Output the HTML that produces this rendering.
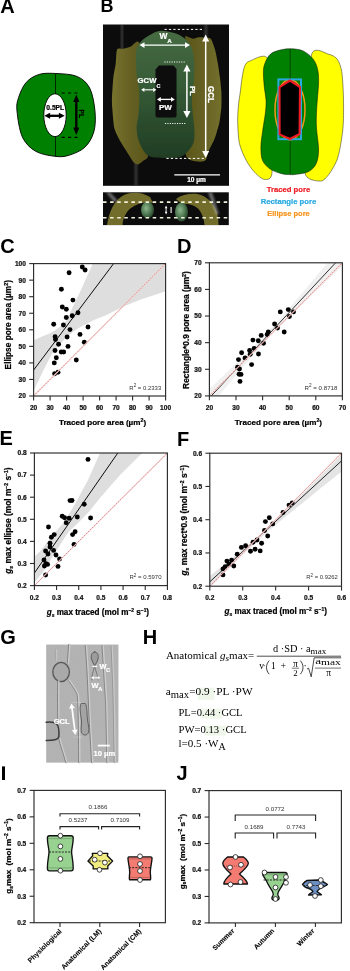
<!DOCTYPE html>
<html><head><meta charset="utf-8"><style>html,body{margin:0;padding:0;background:#fff;}svg{display:block;will-change:transform;}</style></head>
<body><svg width="350" height="971" viewBox="0 0 350 971"><defs><linearGradient id="gG" x1="0" y1="0" x2="0" y2="1"><stop offset="0" stop-color="#466b42"/><stop offset="0.45" stop-color="#355a36"/><stop offset="1" stop-color="#213d24"/></linearGradient><linearGradient id="yL" x1="0" y1="0" x2="1" y2="0"><stop offset="0" stop-color="#77722e"/><stop offset="0.5" stop-color="#666124"/><stop offset="1" stop-color="#5a5519"/></linearGradient><linearGradient id="yR" x1="0" y1="0" x2="1" y2="0"><stop offset="0" stop-color="#5a5519"/><stop offset="0.5" stop-color="#666124"/><stop offset="1" stop-color="#74702c"/></linearGradient><linearGradient id="streak" x1="0" y1="0" x2="1" y2="0"><stop offset="0" stop-color="#fff" stop-opacity="0"/><stop offset="0.5" stop-color="#fff" stop-opacity="0.16"/><stop offset="1" stop-color="#fff" stop-opacity="0"/></linearGradient><filter id="bsoft" x="-5%" y="-5%" width="110%" height="110%"><feGaussianBlur stdDeviation="0.5"/></filter><radialGradient id="gblob" cx="0.4" cy="0.4" r="0.6"><stop offset="0" stop-color="#8fb58c"/><stop offset="0.6" stop-color="#4f7a52"/><stop offset="1" stop-color="#2c4a30"/></radialGradient><filter id="bsoft2" x="-20%" y="-20%" width="140%" height="140%"><feGaussianBlur stdDeviation="0.9"/></filter><clipPath id="cC"><rect x="33.60" y="263.60" width="132.00" height="132.40"/></clipPath><clipPath id="cD"><rect x="209.40" y="262.80" width="133.00" height="133.10"/></clipPath><clipPath id="cE"><rect x="34.40" y="453.00" width="133.00" height="132.60"/></clipPath><clipPath id="cF"><rect x="209.80" y="453.20" width="131.70" height="133.00"/></clipPath><filter id="blur1" x="-10%" y="-10%" width="120%" height="120%"><feGaussianBlur stdDeviation="0.75"/></filter><filter id="gnoise" x="0" y="0" width="100%" height="100%"><feTurbulence type="fractalNoise" baseFrequency="0.18" numOctaves="2" seed="3"/><feColorMatrix type="matrix" values="0 0 0 0 0.5  0 0 0 0 0.5  0 0 0 0 0.5  0 0 0 0.35 0"/></filter></defs><rect width="350" height="971" fill="#fff"/><text x="0.30" y="12.90" font-family='"Liberation Sans", sans-serif' font-size="20.00" font-weight="bold" text-anchor="start" fill="#000" >A</text>
<text x="100.50" y="12.40" font-family='"Liberation Sans", sans-serif' font-size="18.00" font-weight="bold" text-anchor="start" fill="#000" >B</text>
<text x="0.30" y="252.60" font-family='"Liberation Sans", sans-serif' font-size="20.00" font-weight="bold" text-anchor="start" fill="#000" >C</text>
<text x="177.00" y="252.60" font-family='"Liberation Sans", sans-serif' font-size="20.00" font-weight="bold" text-anchor="start" fill="#000" >D</text>
<text x="-0.40" y="445.00" font-family='"Liberation Sans", sans-serif' font-size="20.00" font-weight="bold" text-anchor="start" fill="#000" >E</text>
<text x="177.10" y="445.50" font-family='"Liberation Sans", sans-serif' font-size="20.00" font-weight="bold" text-anchor="start" fill="#000" >F</text>
<text x="0.30" y="643.60" font-family='"Liberation Sans", sans-serif' font-size="20.00" font-weight="bold" text-anchor="start" fill="#000" >G</text>
<text x="142.80" y="643.80" font-family='"Liberation Sans", sans-serif' font-size="20.00" font-weight="bold" text-anchor="start" fill="#000" >H</text>
<rect x="2" y="766.4" width="3" height="13.6" fill="#000"/>
<text x="176.60" y="780.00" font-family='"Liberation Sans", sans-serif' font-size="20.00" font-weight="bold" text-anchor="start" fill="#000" >J</text>
<path d="M55.80,73.50 C62.08,73.83 71.25,73.97 76.90,76.40 C82.55,78.83 86.68,82.28 89.70,88.10 C92.72,93.92 94.32,104.00 95.00,111.30 C95.68,118.60 95.50,125.90 93.80,131.90 C92.10,137.90 88.92,143.42 84.80,147.30 C80.68,151.18 73.93,153.68 69.10,155.20 C64.27,156.72 61.37,157.05 55.80,156.40 C50.23,155.75 41.27,154.53 35.70,151.30 C30.13,148.07 25.52,143.72 22.40,137.00 C19.28,130.28 17.63,117.58 17.00,111.00 C16.37,104.42 17.07,102.27 18.60,97.50 C20.13,92.73 22.77,86.25 26.20,82.40 C29.63,78.55 34.27,75.88 39.20,74.40 C44.13,72.92 49.52,73.17 55.80,73.50Z M66.2,115.2 A11.2,21.4 0 1 0 43.8,115.2 A11.2,21.4 0 1 0 66.2,115.2 Z" fill="#008000" fill-rule="evenodd" stroke="#000" stroke-width="0.9"/>
<line x1="55.5" y1="73.5" x2="55.5" y2="93.9" stroke="#000" stroke-width="0.7"/>
<line x1="55.5" y1="136.6" x2="55.5" y2="156.4" stroke="#000" stroke-width="0.7"/>
<line x1="61.7" y1="93" x2="78.5" y2="93" stroke="#000" stroke-width="1.2" stroke-dasharray="3,3.4"/>
<line x1="61.7" y1="137.3" x2="78.5" y2="137.3" stroke="#000" stroke-width="1.2" stroke-dasharray="3,3.4"/>
<line x1="76.30" y1="100.40" x2="76.30" y2="129.10" stroke="#000" stroke-width="2.40"/>
<polygon points="76.30,94.40 73.20,101.90 79.40,101.90" fill="#000"/>
<polygon points="76.30,135.10 73.20,127.60 79.40,127.60" fill="#000"/>
<line x1="48.94" y1="115.80" x2="60.06" y2="115.80" stroke="#000" stroke-width="2.30"/>
<polygon points="44.30,115.80 50.10,118.80 50.10,112.80" fill="#000"/>
<polygon points="64.70,115.80 58.90,118.80 58.90,112.80" fill="#000"/>
<text x="55.25" y="110.40" font-family='"Liberation Sans", sans-serif' font-size="6.70" font-weight="bold" text-anchor="middle" fill="#000" stroke="#000" stroke-width="0.22" textLength="17.90" lengthAdjust="spacingAndGlyphs" >0.5PL</text>
<text x="79.30" y="113.70" font-family='"Liberation Sans", sans-serif' font-size="6.70" font-weight="bold" text-anchor="middle" fill="#000" stroke="#000" stroke-width="0.22" textLength="8.60" lengthAdjust="spacingAndGlyphs" transform="rotate(90 79.3 113.7)">PL</text>
<rect x="103" y="24.5" width="126" height="161.3" fill="#0c0c0c"/>
<g filter="url(#bsoft)">
<rect x="119.5" y="24.5" width="5" height="25" fill="url(#streak)"/>
<rect x="203" y="24.5" width="6" height="13" fill="url(#streak)"/>
<rect x="133" y="163" width="6" height="22" fill="url(#streak)"/>
<path d="M117.10,49.40 C118.02,47.65 122.01,49.03 123.60,48.70 C125.19,48.37 129.03,47.43 130.70,46.60 C132.37,45.77 136.35,40.62 137.90,41.60 C139.45,42.58 143.17,48.19 144.00,55.00 C144.83,61.81 144.88,90.08 145.00,100.00 C145.12,109.92 144.65,133.40 145.00,140.00 C145.35,146.60 148.23,154.15 148.00,156.60 C147.77,159.05 144.18,160.09 143.00,161.00 C141.82,161.91 139.00,164.25 137.90,164.40 C136.80,164.55 134.94,163.88 133.60,162.30 C132.26,160.73 128.07,153.57 126.40,150.90 C124.73,148.23 120.71,142.07 119.30,139.40 C117.89,136.73 115.10,131.43 114.30,128.00 C113.50,124.57 112.68,113.34 112.40,110.00 C112.12,106.66 111.80,103.13 111.90,99.40 C112.01,95.67 112.86,82.17 113.30,78.00 C113.74,73.83 115.26,67.04 115.70,63.70 C116.14,60.36 116.18,51.15 117.10,49.40Z" fill="url(#yL)"/>
<path d="M185.00,36.60 C185.57,35.28 191.31,38.62 192.90,38.70 C194.49,38.78 197.31,37.44 198.60,37.30 C199.89,37.16 202.59,37.34 204.00,37.50 C205.41,37.66 209.42,37.31 210.70,38.70 C211.98,40.09 214.16,46.48 215.00,49.40 C215.84,52.32 217.32,60.36 217.90,63.70 C218.48,67.04 219.59,74.66 220.00,78.00 C220.41,81.34 221.24,88.96 221.40,92.30 C221.56,95.64 221.62,103.13 221.40,106.60 C221.18,110.06 220.04,119.04 219.50,122.00 C218.96,124.96 217.41,129.97 216.80,132.00 C216.19,134.03 215.26,137.19 214.30,139.40 C213.34,141.61 209.60,148.49 208.60,150.90 C207.60,153.31 206.87,158.85 205.70,160.10 C204.53,161.35 200.93,162.26 198.60,161.60 C196.27,160.94 186.94,161.59 185.70,154.40 C184.46,147.21 187.73,112.18 188.00,100.00 C188.27,87.82 188.35,57.40 188.00,50.00 C187.65,42.60 184.43,37.92 185.00,36.60Z" fill="url(#yR)"/>
<path d="M157.00,31.50 C159.50,30.75 160.83,30.67 164.00,31.00 C167.17,31.33 172.67,32.33 176.00,33.50 C179.33,34.67 181.75,36.25 184.00,38.00 C186.25,39.75 188.05,41.83 189.50,44.00 C190.95,46.17 191.90,47.72 192.70,51.00 C193.50,54.28 194.07,59.20 194.30,63.70 C194.53,68.20 194.43,73.28 194.10,78.00 C193.77,82.72 192.63,87.23 192.30,92.00 C191.97,96.77 191.77,100.60 192.10,106.60 C192.43,112.60 194.05,122.05 194.30,128.00 C194.55,133.95 194.80,138.25 193.60,142.30 C192.40,146.35 189.60,149.80 187.10,152.30 C184.60,154.80 182.62,156.37 178.60,157.30 C174.58,158.23 168.12,158.20 163.00,157.90 C157.88,157.60 151.85,158.10 147.90,155.50 C143.95,152.90 141.18,146.88 139.30,142.30 C137.42,137.72 136.72,132.77 136.60,128.00 C136.48,123.23 138.15,119.65 138.60,113.70 C139.05,107.75 139.55,98.25 139.30,92.30 C139.05,86.35 137.63,82.53 137.10,78.00 C136.57,73.47 136.28,69.43 136.10,65.10 C135.92,60.77 135.60,55.35 136.00,52.00 C136.40,48.65 137.33,47.08 138.50,45.00 C139.67,42.92 141.25,41.08 143.00,39.50 C144.75,37.92 146.67,36.83 149.00,35.50 C151.33,34.17 154.50,32.25 157.00,31.50Z" fill="url(#gG)"/>
<path d="M159,65.5 L173.5,65.5 L176.5,69 L176.5,115 Q176.5,117.6 174,117.6 L158,117.6 Q155.5,117.6 155.5,115 L155.5,69.5 Z" fill="#090909"/>
</g>
<line x1="164.5" y1="29.4" x2="204" y2="29.4" stroke="#fff" stroke-width="1" stroke-dasharray="2.3,2.1"/>
<line x1="164.4" y1="62" x2="186" y2="62" stroke="#fff" stroke-width="1" stroke-dasharray="1.1,1.3"/>
<line x1="165" y1="123.5" x2="186.5" y2="123.5" stroke="#fff" stroke-width="1" stroke-dasharray="1.1,1.3"/>
<line x1="166.4" y1="158.4" x2="204" y2="158.4" stroke="#fff" stroke-width="1" stroke-dasharray="2.3,2.1"/>
<line x1="143.50" y1="45.10" x2="186.00" y2="45.10" stroke="#ffffff" stroke-width="1.40"/>
<polygon points="139.50,45.10 144.50,48.00 144.50,42.20" fill="#ffffff"/>
<polygon points="190.00,45.10 185.00,48.00 185.00,42.20" fill="#ffffff"/>
<line x1="205.70" y1="40.00" x2="205.70" y2="152.40" stroke="#ffffff" stroke-width="1.50"/>
<polygon points="205.70,34.40 202.20,41.40 209.20,41.40" fill="#ffffff"/>
<polygon points="205.70,158.00 202.20,151.00 209.20,151.00" fill="#ffffff"/>
<line x1="186.90" y1="70.00" x2="186.90" y2="112.40" stroke="#ffffff" stroke-width="1.50"/>
<polygon points="186.90,64.40 183.30,71.40 190.50,71.40" fill="#ffffff"/>
<polygon points="186.90,118.00 183.30,111.00 190.50,111.00" fill="#ffffff"/>
<line x1="143.76" y1="89.80" x2="153.84" y2="89.80" stroke="#ffffff" stroke-width="1.10"/>
<polygon points="141.20,89.80 144.40,91.90 144.40,87.70" fill="#ffffff"/>
<polygon points="156.40,89.80 153.20,91.90 153.20,87.70" fill="#ffffff"/>
<line x1="160.04" y1="99.40" x2="171.76" y2="99.40" stroke="#ffffff" stroke-width="1.30"/>
<polygon points="157.00,99.40 160.80,101.80 160.80,97.00" fill="#ffffff"/>
<polygon points="174.80,99.40 171.00,101.80 171.00,97.00" fill="#ffffff"/>
<text x="159.60" y="38.60" font-family='"Liberation Sans", sans-serif' font-size="8.40" font-weight="bold" text-anchor="start" fill="#ffffff" stroke="#ffffff" stroke-width="0.22" >W</text>
<text x="167.20" y="43.40" font-family='"Liberation Sans", sans-serif' font-size="6.20" font-weight="bold" text-anchor="start" fill="#ffffff" stroke="#ffffff" stroke-width="0.22" >A</text>
<text x="137.60" y="83.20" font-family='"Liberation Sans", sans-serif' font-size="7.60" font-weight="bold" text-anchor="start" fill="#ffffff" stroke="#ffffff" stroke-width="0.22" textLength="18.80" lengthAdjust="spacingAndGlyphs" >GCW</text>
<text x="156.60" y="88.20" font-family='"Liberation Sans", sans-serif' font-size="5.40" font-weight="bold" text-anchor="start" fill="#ffffff" stroke="#ffffff" stroke-width="0.22" >C</text>
<text x="165.40" y="110.20" font-family='"Liberation Sans", sans-serif' font-size="8.00" font-weight="bold" text-anchor="middle" fill="#ffffff" stroke="#ffffff" stroke-width="0.22" textLength="12.90" lengthAdjust="spacingAndGlyphs" >PW</text>
<text x="190.00" y="90.90" font-family='"Liberation Sans", sans-serif' font-size="7.80" font-weight="bold" text-anchor="middle" fill="#ffffff" stroke="#ffffff" stroke-width="0.22" textLength="10.00" lengthAdjust="spacingAndGlyphs" transform="rotate(90 190.0 90.9)">PL</text>
<text x="207.80" y="94.40" font-family='"Liberation Sans", sans-serif' font-size="8.20" font-weight="bold" text-anchor="middle" fill="#ffffff" stroke="#ffffff" stroke-width="0.22" textLength="17.00" lengthAdjust="spacingAndGlyphs" transform="rotate(90 207.8 94.4)">GCL</text>
<line x1="174.3" y1="174.8" x2="220" y2="174.8" stroke="#fff" stroke-width="1.3"/>
<text x="196.50" y="181.80" font-family='"Liberation Sans", sans-serif' font-size="6.40" font-weight="bold" text-anchor="middle" fill="#ffffff" stroke="#ffffff" stroke-width="0.22" textLength="18.70" lengthAdjust="spacingAndGlyphs" >10 µm</text>
<rect x="103" y="192.3" width="125.8" height="32.8" fill="#0c0c0c"/>
<g filter="url(#bsoft)">
<path d="M107,225.1 C109,212 114,200 124,195 C132,191.5 142,192 150,197 L153,203 C146,201.5 138,203 131,208 C126,212 123,218 122.5,225.1 Z" fill="#726d2c"/>
<path d="M176,199 C182,194.5 190,193.2 197,194 C206,195.5 213,202 216.5,211 C218,216 218.5,221 218.5,225.1 L204.5,225.1 C204,219 202,213 198.5,209 C194,204.5 188,203.5 182,204.3 Z" fill="#726d2c"/>
<ellipse cx="147.5" cy="210" rx="6.5" ry="8.5" fill="url(#gblob)"/>
<ellipse cx="181.5" cy="212" rx="6.5" ry="9.5" fill="url(#gblob)"/>
</g>
<g filter="url(#bsoft2)" opacity="0.55">
<path d="M106,192.3 L110,192.3 L118,201 L114,202 Z" fill="#bbbbbb"/>
<path d="M208,192.3 L212,192.3 L219,214 L216,215 Z" fill="#bbbbbb"/>
</g>
<line x1="103" y1="202.1" x2="228.8" y2="202.1" stroke="#f4f2dc" stroke-width="1.6" stroke-dasharray="3.5,3.6"/>
<line x1="103" y1="217.7" x2="228.8" y2="217.7" stroke="#f4f2dc" stroke-width="1.6" stroke-dasharray="3.5,3.6"/>
<line x1="166.10" y1="207.72" x2="166.10" y2="212.28" stroke="#ffffff" stroke-width="0.90"/>
<polygon points="166.10,205.40 164.80,208.30 167.40,208.30" fill="#ffffff"/>
<polygon points="166.10,214.60 164.80,211.70 167.40,211.70" fill="#ffffff"/>
<line x1="171.1" y1="207.1" x2="171.1" y2="212.9" stroke="#fff" stroke-width="1.1"/>
<path d="M268.00,59.50 C265.56,51.65 252.82,60.19 249.70,61.10 C246.58,62.01 245.63,64.01 244.60,66.30 C243.57,68.59 242.57,74.87 242.00,78.30 C241.43,81.73 240.75,88.57 240.30,92.00 C239.85,95.43 238.95,100.12 238.60,104.00 C238.25,107.88 237.59,115.85 237.70,121.10 C237.81,126.35 238.25,138.13 239.40,143.40 C240.55,148.67 244.23,156.71 246.30,160.60 C248.37,164.49 252.50,170.09 254.90,172.60 C257.30,175.11 262.02,179.40 264.30,179.40 C266.58,179.40 271.51,180.52 272.00,172.60 C272.49,164.68 268.53,135.08 268.00,120.00 C267.47,104.92 270.44,67.35 268.00,59.50Z" fill="#ffff00" stroke="#222" stroke-width="0.5"/>
<path d="M311.70,54.30 C313.95,45.54 325.47,53.62 328.90,54.30 C332.33,54.98 335.69,57.12 337.40,59.40 C339.11,61.68 340.90,66.60 341.70,71.40 C342.50,76.20 343.17,88.77 343.40,95.40 C343.63,102.03 343.63,115.38 343.40,121.10 C343.17,126.82 342.50,133.26 341.70,138.30 C340.90,143.34 339.11,154.10 337.40,158.90 C335.69,163.70 331.18,171.34 328.90,174.30 C326.62,177.26 323.50,181.33 320.30,181.10 C317.10,180.87 306.01,180.75 304.90,172.60 C303.79,164.45 311.09,135.77 312.00,120.00 C312.91,104.23 309.45,63.06 311.70,54.30Z" fill="#ffff00" stroke="#222" stroke-width="0.5"/>
<path d="M290.30,48.80 C294.32,48.90 299.25,49.13 303.10,50.90 C306.95,52.67 310.97,56.27 313.40,59.40 C315.83,62.53 316.83,65.98 317.70,69.70 C318.57,73.42 318.60,77.42 318.60,81.70 C318.60,85.98 318.05,90.35 317.70,95.40 C317.35,100.45 316.70,106.57 316.50,112.00 C316.30,117.43 316.15,121.67 316.50,128.00 C316.85,134.33 318.68,144.00 318.60,150.00 C318.52,156.00 317.72,160.38 316.00,164.00 C314.28,167.62 311.58,169.98 308.30,171.70 C305.02,173.42 299.42,173.82 296.30,174.30 C293.18,174.78 292.22,174.75 289.60,174.60 C286.98,174.45 283.82,174.32 280.60,173.40 C277.38,172.48 273.30,171.23 270.30,169.10 C267.30,166.97 264.17,164.30 262.60,160.60 C261.03,156.90 260.90,151.77 260.90,146.90 C260.90,142.03 261.83,137.22 262.60,131.40 C263.37,125.58 264.93,117.23 265.50,112.00 C266.07,106.77 266.20,104.18 266.00,100.00 C265.80,95.82 264.73,91.67 264.30,86.90 C263.87,82.13 263.27,75.40 263.40,71.40 C263.53,67.40 263.95,65.75 265.10,62.90 C266.25,60.05 267.98,56.40 270.30,54.30 C272.62,52.20 275.67,51.22 279.00,50.30 C282.33,49.38 286.28,48.70 290.30,48.80Z" fill="#008000" stroke="#111" stroke-width="0.5"/>
<line x1="290.2" y1="48.8" x2="290.2" y2="174.6" stroke="#111" stroke-width="0.5"/>
<ellipse cx="290" cy="109.7" rx="15" ry="30" fill="none" stroke="#f7941d" stroke-width="1.5"/>
<rect x="278.4" y="79.4" width="22.6" height="59.8" fill="none" stroke="#27aae1" stroke-width="2"/>
<path d="M289.9,80.5 L300,87 L299.6,134 L289.9,139 L279.6,134.4 L279.5,87.2 Z" fill="#000" stroke="#ed1c24" stroke-width="2.1" stroke-linejoin="round"/>
<text x="288.50" y="191.80" font-family='"Liberation Sans", sans-serif' font-size="7.60" font-weight="bold" text-anchor="middle" fill="#ed1c24" stroke="#ed1c24" stroke-width="0.22" textLength="43.50" lengthAdjust="spacingAndGlyphs" >Traced pore</text>
<text x="288.50" y="203.80" font-family='"Liberation Sans", sans-serif' font-size="7.60" font-weight="bold" text-anchor="middle" fill="#27aae1" stroke="#27aae1" stroke-width="0.22" textLength="55.50" lengthAdjust="spacingAndGlyphs" >Rectangle pore</text>
<text x="288.50" y="215.80" font-family='"Liberation Sans", sans-serif' font-size="7.60" font-weight="bold" text-anchor="middle" fill="#f7941d" stroke="#f7941d" stroke-width="0.22" textLength="42.50" lengthAdjust="spacingAndGlyphs" >Ellipse pore</text>
<g clip-path="url(#cC)"><path d="M33.00,340.50 L44.40,335.60 L50.00,333.20 L55.90,329.70 L62.70,325.10 L67.50,319.00 L73.10,305.90 L79.60,293.00 L86.00,278.70 L92.40,264.40 L93.00,262.00 L167.00,262.00 L167.00,291.50 L164.40,291.70 L140.80,299.60 L123.40,306.60 L106.00,315.30 L94.60,319.70 L82.60,325.70 L74.00,330.90 L65.40,338.50 L58.00,346.00 L51.40,355.10 L43.00,371.00 L33.90,390.30 L33.00,392.00 Z" fill="#dedede"/>
<line x1="33.6" y1="370.1" x2="113.6" y2="263.6" stroke="#000" stroke-width="0.95"/></g>
<circle cx="82.30" cy="267.00" r="2.45" fill="#000"/>
<circle cx="85.10" cy="270.00" r="2.45" fill="#000"/>
<circle cx="69.10" cy="272.70" r="2.45" fill="#000"/>
<circle cx="61.40" cy="289.30" r="2.45" fill="#000"/>
<circle cx="72.90" cy="300.10" r="2.45" fill="#000"/>
<circle cx="62.30" cy="307.00" r="2.45" fill="#000"/>
<circle cx="66.30" cy="309.30" r="2.45" fill="#000"/>
<circle cx="78.00" cy="312.80" r="2.45" fill="#000"/>
<circle cx="72.20" cy="315.80" r="2.45" fill="#000"/>
<circle cx="66.30" cy="317.50" r="2.45" fill="#000"/>
<circle cx="53.70" cy="324.20" r="2.45" fill="#000"/>
<circle cx="63.40" cy="325.00" r="2.45" fill="#000"/>
<circle cx="88.00" cy="327.00" r="2.45" fill="#000"/>
<circle cx="70.00" cy="329.60" r="2.45" fill="#000"/>
<circle cx="80.00" cy="334.40" r="2.45" fill="#000"/>
<circle cx="55.10" cy="336.80" r="2.45" fill="#000"/>
<circle cx="55.50" cy="339.60" r="2.45" fill="#000"/>
<circle cx="67.10" cy="337.00" r="2.45" fill="#000"/>
<circle cx="58.60" cy="344.20" r="2.45" fill="#000"/>
<circle cx="84.30" cy="342.20" r="2.45" fill="#000"/>
<circle cx="68.00" cy="346.40" r="2.45" fill="#000"/>
<circle cx="55.00" cy="350.50" r="2.45" fill="#000"/>
<circle cx="61.20" cy="352.00" r="2.45" fill="#000"/>
<circle cx="63.70" cy="352.00" r="2.45" fill="#000"/>
<circle cx="56.30" cy="357.70" r="2.45" fill="#000"/>
<circle cx="54.30" cy="362.90" r="2.45" fill="#000"/>
<circle cx="76.30" cy="360.00" r="2.45" fill="#000"/>
<circle cx="54.60" cy="373.70" r="2.45" fill="#000"/>
<circle cx="58.00" cy="372.30" r="2.45" fill="#000"/>
<line x1="33.60" y1="396.00" x2="165.60" y2="263.60" stroke="#f7e0e0" stroke-width="1.1"/>
<line x1="33.60" y1="396.00" x2="165.60" y2="263.60" stroke="#d85c5c" stroke-width="0.7" stroke-dasharray="1.8,1.0"/>
<rect x="33.60" y="263.60" width="132.00" height="132.40" fill="none" stroke="#2b2b2b" stroke-width="1.15"/>
<line x1="29.20" y1="396.00" x2="33.60" y2="396.00" stroke="#2b2b2b" stroke-width="1.1"/>
<text x="25.90" y="398.35" font-family='"Liberation Sans", sans-serif' font-size="6.60" font-weight="bold" text-anchor="end" fill="#111" stroke="#111" stroke-width="0.22" >20</text>
<line x1="29.20" y1="379.45" x2="33.60" y2="379.45" stroke="#2b2b2b" stroke-width="1.1"/>
<text x="25.90" y="381.80" font-family='"Liberation Sans", sans-serif' font-size="6.60" font-weight="bold" text-anchor="end" fill="#111" stroke="#111" stroke-width="0.22" >30</text>
<line x1="29.20" y1="362.90" x2="33.60" y2="362.90" stroke="#2b2b2b" stroke-width="1.1"/>
<text x="25.90" y="365.25" font-family='"Liberation Sans", sans-serif' font-size="6.60" font-weight="bold" text-anchor="end" fill="#111" stroke="#111" stroke-width="0.22" >40</text>
<line x1="29.20" y1="346.35" x2="33.60" y2="346.35" stroke="#2b2b2b" stroke-width="1.1"/>
<text x="25.90" y="348.70" font-family='"Liberation Sans", sans-serif' font-size="6.60" font-weight="bold" text-anchor="end" fill="#111" stroke="#111" stroke-width="0.22" >50</text>
<line x1="29.20" y1="329.80" x2="33.60" y2="329.80" stroke="#2b2b2b" stroke-width="1.1"/>
<text x="25.90" y="332.15" font-family='"Liberation Sans", sans-serif' font-size="6.60" font-weight="bold" text-anchor="end" fill="#111" stroke="#111" stroke-width="0.22" >60</text>
<line x1="29.20" y1="313.25" x2="33.60" y2="313.25" stroke="#2b2b2b" stroke-width="1.1"/>
<text x="25.90" y="315.60" font-family='"Liberation Sans", sans-serif' font-size="6.60" font-weight="bold" text-anchor="end" fill="#111" stroke="#111" stroke-width="0.22" >70</text>
<line x1="29.20" y1="296.70" x2="33.60" y2="296.70" stroke="#2b2b2b" stroke-width="1.1"/>
<text x="25.90" y="299.05" font-family='"Liberation Sans", sans-serif' font-size="6.60" font-weight="bold" text-anchor="end" fill="#111" stroke="#111" stroke-width="0.22" >80</text>
<line x1="29.20" y1="280.15" x2="33.60" y2="280.15" stroke="#2b2b2b" stroke-width="1.1"/>
<text x="25.90" y="282.50" font-family='"Liberation Sans", sans-serif' font-size="6.60" font-weight="bold" text-anchor="end" fill="#111" stroke="#111" stroke-width="0.22" >90</text>
<line x1="29.20" y1="263.60" x2="33.60" y2="263.60" stroke="#2b2b2b" stroke-width="1.1"/>
<text x="25.90" y="265.95" font-family='"Liberation Sans", sans-serif' font-size="6.60" font-weight="bold" text-anchor="end" fill="#111" stroke="#111" stroke-width="0.22" >100</text>
<line x1="33.60" y1="396.00" x2="33.60" y2="400.40" stroke="#2b2b2b" stroke-width="1.1"/>
<text x="33.60" y="410.20" font-family='"Liberation Sans", sans-serif' font-size="6.60" font-weight="bold" text-anchor="middle" fill="#111" stroke="#111" stroke-width="0.22" >20</text>
<line x1="50.10" y1="396.00" x2="50.10" y2="400.40" stroke="#2b2b2b" stroke-width="1.1"/>
<text x="50.10" y="410.20" font-family='"Liberation Sans", sans-serif' font-size="6.60" font-weight="bold" text-anchor="middle" fill="#111" stroke="#111" stroke-width="0.22" >30</text>
<line x1="66.60" y1="396.00" x2="66.60" y2="400.40" stroke="#2b2b2b" stroke-width="1.1"/>
<text x="66.60" y="410.20" font-family='"Liberation Sans", sans-serif' font-size="6.60" font-weight="bold" text-anchor="middle" fill="#111" stroke="#111" stroke-width="0.22" >40</text>
<line x1="83.10" y1="396.00" x2="83.10" y2="400.40" stroke="#2b2b2b" stroke-width="1.1"/>
<text x="83.10" y="410.20" font-family='"Liberation Sans", sans-serif' font-size="6.60" font-weight="bold" text-anchor="middle" fill="#111" stroke="#111" stroke-width="0.22" >50</text>
<line x1="99.60" y1="396.00" x2="99.60" y2="400.40" stroke="#2b2b2b" stroke-width="1.1"/>
<text x="99.60" y="410.20" font-family='"Liberation Sans", sans-serif' font-size="6.60" font-weight="bold" text-anchor="middle" fill="#111" stroke="#111" stroke-width="0.22" >60</text>
<line x1="116.10" y1="396.00" x2="116.10" y2="400.40" stroke="#2b2b2b" stroke-width="1.1"/>
<text x="116.10" y="410.20" font-family='"Liberation Sans", sans-serif' font-size="6.60" font-weight="bold" text-anchor="middle" fill="#111" stroke="#111" stroke-width="0.22" >70</text>
<line x1="132.60" y1="396.00" x2="132.60" y2="400.40" stroke="#2b2b2b" stroke-width="1.1"/>
<text x="132.60" y="410.20" font-family='"Liberation Sans", sans-serif' font-size="6.60" font-weight="bold" text-anchor="middle" fill="#111" stroke="#111" stroke-width="0.22" >80</text>
<line x1="149.10" y1="396.00" x2="149.10" y2="400.40" stroke="#2b2b2b" stroke-width="1.1"/>
<text x="149.10" y="410.20" font-family='"Liberation Sans", sans-serif' font-size="6.60" font-weight="bold" text-anchor="middle" fill="#111" stroke="#111" stroke-width="0.22" >90</text>
<line x1="165.60" y1="396.00" x2="165.60" y2="400.40" stroke="#2b2b2b" stroke-width="1.1"/>
<text x="165.60" y="410.20" font-family='"Liberation Sans", sans-serif' font-size="6.60" font-weight="bold" text-anchor="middle" fill="#111" stroke="#111" stroke-width="0.22" >100</text>
<text x="102.50" y="424.60" font-family='"Liberation Sans", sans-serif' font-size="8.10" font-weight="bold" text-anchor="middle" fill="#000" stroke="#000" stroke-width="0.22" >Traced pore area (µm<tspan dy="-2.8" font-size="5.26">2</tspan><tspan dy="2.8">)</tspan></text>
<text x="11.20" y="324.70" font-family='"Liberation Sans", sans-serif' font-size="8.30" font-weight="bold" text-anchor="middle" fill="#000" stroke="#000" stroke-width="0.22" transform="rotate(-90 11.20 324.70)">Ellipse pore area (µm<tspan dy="-2.8" font-size="5.40">2</tspan><tspan dy="2.8">)</tspan></text>
<text x="129.30" y="389.70" font-family='"Liberation Sans", sans-serif' font-size="6.00" font-weight="normal" text-anchor="start" fill="#333" textLength="32.00" lengthAdjust="spacingAndGlyphs" >R<tspan dy="-2.3" font-size="4.6">2</tspan><tspan dy="2.3"> = 0.2333</tspan></text>
<g clip-path="url(#cD)"><path d="M200.00,397.81 L206.25,391.91 L212.50,386.01 L218.75,380.09 L225.00,374.15 L231.25,368.18 L237.50,362.18 L243.75,356.13 L250.00,350.01 L256.25,343.79 L262.50,337.42 L268.75,330.87 L275.00,324.11 L281.25,317.16 L287.50,310.05 L293.75,302.82 L300.00,295.51 L306.25,288.14 L312.50,280.73 L318.75,273.29 L325.00,265.83 L331.25,258.36 L337.50,250.87 L343.75,243.37 L350.00,235.87 L350.00,258.84 L343.75,264.72 L337.50,270.61 L331.25,276.51 L325.00,282.42 L318.75,288.35 L312.50,294.30 L306.25,300.28 L300.00,306.29 L293.75,312.37 L287.50,318.53 L281.25,324.81 L275.00,331.24 L268.75,337.88 L262.50,344.71 L256.25,351.73 L250.00,358.89 L243.75,366.16 L237.50,373.50 L231.25,380.88 L225.00,388.31 L218.75,395.75 L212.50,403.22 L206.25,410.70 L200.00,418.19 Z" fill="#f0f0f0"/>
<line x1="211.3" y1="395.9" x2="335.6" y2="262.8" stroke="#000" stroke-width="0.8"/></g>
<circle cx="280.30" cy="311.90" r="2.45" fill="#000"/>
<circle cx="288.30" cy="309.60" r="2.45" fill="#000"/>
<circle cx="293.50" cy="311.90" r="2.45" fill="#000"/>
<circle cx="289.40" cy="316.50" r="2.45" fill="#000"/>
<circle cx="274.60" cy="324.00" r="2.45" fill="#000"/>
<circle cx="277.50" cy="328.10" r="2.45" fill="#000"/>
<circle cx="284.20" cy="332.00" r="2.45" fill="#000"/>
<circle cx="268.30" cy="332.00" r="2.45" fill="#000"/>
<circle cx="267.20" cy="334.50" r="2.45" fill="#000"/>
<circle cx="261.20" cy="335.40" r="2.45" fill="#000"/>
<circle cx="252.90" cy="340.10" r="2.45" fill="#000"/>
<circle cx="258.30" cy="340.80" r="2.45" fill="#000"/>
<circle cx="263.50" cy="343.20" r="2.45" fill="#000"/>
<circle cx="254.10" cy="348.40" r="2.45" fill="#000"/>
<circle cx="249.60" cy="350.40" r="2.45" fill="#000"/>
<circle cx="241.60" cy="352.80" r="2.45" fill="#000"/>
<circle cx="250.20" cy="354.30" r="2.45" fill="#000"/>
<circle cx="258.50" cy="354.00" r="2.45" fill="#000"/>
<circle cx="245.00" cy="357.90" r="2.45" fill="#000"/>
<circle cx="238.50" cy="359.60" r="2.45" fill="#000"/>
<circle cx="251.60" cy="364.60" r="2.45" fill="#000"/>
<circle cx="237.60" cy="367.30" r="2.45" fill="#000"/>
<circle cx="239.50" cy="369.00" r="2.45" fill="#000"/>
<circle cx="239.10" cy="374.20" r="2.45" fill="#000"/>
<circle cx="241.00" cy="374.40" r="2.45" fill="#000"/>
<circle cx="240.00" cy="381.40" r="2.45" fill="#000"/>
<line x1="209.40" y1="395.90" x2="342.40" y2="262.80" stroke="#f7e0e0" stroke-width="1.1"/>
<line x1="209.40" y1="395.90" x2="342.40" y2="262.80" stroke="#d85c5c" stroke-width="0.7" stroke-dasharray="1.8,1.0"/>
<rect x="209.40" y="262.80" width="133.00" height="133.10" fill="none" stroke="#2b2b2b" stroke-width="1.15"/>
<line x1="205.00" y1="395.90" x2="209.40" y2="395.90" stroke="#2b2b2b" stroke-width="1.1"/>
<text x="201.70" y="398.25" font-family='"Liberation Sans", sans-serif' font-size="6.60" font-weight="bold" text-anchor="end" fill="#111" stroke="#111" stroke-width="0.22" >20</text>
<line x1="205.00" y1="369.28" x2="209.40" y2="369.28" stroke="#2b2b2b" stroke-width="1.1"/>
<text x="201.70" y="371.63" font-family='"Liberation Sans", sans-serif' font-size="6.60" font-weight="bold" text-anchor="end" fill="#111" stroke="#111" stroke-width="0.22" >30</text>
<line x1="205.00" y1="342.66" x2="209.40" y2="342.66" stroke="#2b2b2b" stroke-width="1.1"/>
<text x="201.70" y="345.01" font-family='"Liberation Sans", sans-serif' font-size="6.60" font-weight="bold" text-anchor="end" fill="#111" stroke="#111" stroke-width="0.22" >40</text>
<line x1="205.00" y1="316.04" x2="209.40" y2="316.04" stroke="#2b2b2b" stroke-width="1.1"/>
<text x="201.70" y="318.39" font-family='"Liberation Sans", sans-serif' font-size="6.60" font-weight="bold" text-anchor="end" fill="#111" stroke="#111" stroke-width="0.22" >50</text>
<line x1="205.00" y1="289.42" x2="209.40" y2="289.42" stroke="#2b2b2b" stroke-width="1.1"/>
<text x="201.70" y="291.77" font-family='"Liberation Sans", sans-serif' font-size="6.60" font-weight="bold" text-anchor="end" fill="#111" stroke="#111" stroke-width="0.22" >60</text>
<line x1="205.00" y1="262.80" x2="209.40" y2="262.80" stroke="#2b2b2b" stroke-width="1.1"/>
<text x="201.70" y="265.15" font-family='"Liberation Sans", sans-serif' font-size="6.60" font-weight="bold" text-anchor="end" fill="#111" stroke="#111" stroke-width="0.22" >70</text>
<line x1="209.40" y1="395.90" x2="209.40" y2="400.30" stroke="#2b2b2b" stroke-width="1.1"/>
<text x="209.40" y="410.10" font-family='"Liberation Sans", sans-serif' font-size="6.60" font-weight="bold" text-anchor="middle" fill="#111" stroke="#111" stroke-width="0.22" >20</text>
<line x1="236.00" y1="395.90" x2="236.00" y2="400.30" stroke="#2b2b2b" stroke-width="1.1"/>
<text x="236.00" y="410.10" font-family='"Liberation Sans", sans-serif' font-size="6.60" font-weight="bold" text-anchor="middle" fill="#111" stroke="#111" stroke-width="0.22" >30</text>
<line x1="262.60" y1="395.90" x2="262.60" y2="400.30" stroke="#2b2b2b" stroke-width="1.1"/>
<text x="262.60" y="410.10" font-family='"Liberation Sans", sans-serif' font-size="6.60" font-weight="bold" text-anchor="middle" fill="#111" stroke="#111" stroke-width="0.22" >40</text>
<line x1="289.20" y1="395.90" x2="289.20" y2="400.30" stroke="#2b2b2b" stroke-width="1.1"/>
<text x="289.20" y="410.10" font-family='"Liberation Sans", sans-serif' font-size="6.60" font-weight="bold" text-anchor="middle" fill="#111" stroke="#111" stroke-width="0.22" >50</text>
<line x1="315.80" y1="395.90" x2="315.80" y2="400.30" stroke="#2b2b2b" stroke-width="1.1"/>
<text x="315.80" y="410.10" font-family='"Liberation Sans", sans-serif' font-size="6.60" font-weight="bold" text-anchor="middle" fill="#111" stroke="#111" stroke-width="0.22" >60</text>
<line x1="342.40" y1="395.90" x2="342.40" y2="400.30" stroke="#2b2b2b" stroke-width="1.1"/>
<text x="342.40" y="410.10" font-family='"Liberation Sans", sans-serif' font-size="6.60" font-weight="bold" text-anchor="middle" fill="#111" stroke="#111" stroke-width="0.22" >70</text>
<text x="278.40" y="424.60" font-family='"Liberation Sans", sans-serif' font-size="8.10" font-weight="bold" text-anchor="middle" fill="#000" stroke="#000" stroke-width="0.22" >Traced pore area (µm<tspan dy="-2.8" font-size="5.26">2</tspan><tspan dy="2.8">)</tspan></text>
<text x="188.60" y="330.00" font-family='"Liberation Sans", sans-serif' font-size="8.35" font-weight="bold" text-anchor="middle" fill="#000" stroke="#000" stroke-width="0.22" transform="rotate(-90 188.60 330.00)">Rectangle*0.9 pore area (µm<tspan dy="-2.8" font-size="5.43">2</tspan><tspan dy="2.8">)</tspan></text>
<text x="304.50" y="389.70" font-family='"Liberation Sans", sans-serif' font-size="6.00" font-weight="normal" text-anchor="start" fill="#333" textLength="33.00" lengthAdjust="spacingAndGlyphs" >R<tspan dy="-2.3" font-size="4.6">2</tspan><tspan dy="2.3"> = 0.8718</tspan></text>
<g clip-path="url(#cE)"><path d="M33.00,558.00 L40.00,551.50 L50.00,538.50 L57.00,530.00 L63.90,522.50 L75.00,504.00 L88.00,480.00 L100.00,453.00 L101.00,450.00 L143.00,450.00 L142.20,453.00 L120.00,475.00 L100.00,498.00 L90.00,510.60 L79.30,521.70 L68.30,532.30 L58.70,547.00 L43.30,571.40 L34.40,582.60 L33.00,584.00 Z" fill="#dedede"/>
<line x1="34.4" y1="573" x2="117.8" y2="453" stroke="#000" stroke-width="0.95"/></g>
<circle cx="88.00" cy="459.40" r="2.45" fill="#000"/>
<circle cx="70.00" cy="500.60" r="2.45" fill="#000"/>
<circle cx="72.00" cy="500.50" r="2.45" fill="#000"/>
<circle cx="84.20" cy="504.30" r="2.45" fill="#000"/>
<circle cx="62.20" cy="516.20" r="2.45" fill="#000"/>
<circle cx="64.60" cy="517.80" r="2.45" fill="#000"/>
<circle cx="69.10" cy="518.20" r="2.45" fill="#000"/>
<circle cx="77.30" cy="517.00" r="2.45" fill="#000"/>
<circle cx="90.60" cy="518.00" r="2.45" fill="#000"/>
<circle cx="66.20" cy="522.80" r="2.45" fill="#000"/>
<circle cx="48.50" cy="527.00" r="2.45" fill="#000"/>
<circle cx="54.20" cy="534.60" r="2.45" fill="#000"/>
<circle cx="51.40" cy="537.30" r="2.45" fill="#000"/>
<circle cx="75.10" cy="531.80" r="2.45" fill="#000"/>
<circle cx="72.60" cy="534.60" r="2.45" fill="#000"/>
<circle cx="50.00" cy="543.30" r="2.45" fill="#000"/>
<circle cx="74.00" cy="544.40" r="2.45" fill="#000"/>
<circle cx="50.00" cy="547.00" r="2.45" fill="#000"/>
<circle cx="53.60" cy="550.40" r="2.45" fill="#000"/>
<circle cx="45.60" cy="551.00" r="2.45" fill="#000"/>
<circle cx="48.00" cy="554.00" r="2.45" fill="#000"/>
<circle cx="56.00" cy="555.00" r="2.45" fill="#000"/>
<circle cx="59.60" cy="559.00" r="2.45" fill="#000"/>
<circle cx="44.00" cy="560.00" r="2.45" fill="#000"/>
<circle cx="46.00" cy="563.60" r="2.45" fill="#000"/>
<circle cx="44.40" cy="566.00" r="2.45" fill="#000"/>
<circle cx="47.60" cy="564.40" r="2.45" fill="#000"/>
<circle cx="58.00" cy="566.40" r="2.45" fill="#000"/>
<circle cx="45.60" cy="575.00" r="2.45" fill="#000"/>
<line x1="34.40" y1="585.60" x2="167.40" y2="453.00" stroke="#f7e0e0" stroke-width="1.1"/>
<line x1="34.40" y1="585.60" x2="167.40" y2="453.00" stroke="#d85c5c" stroke-width="0.7" stroke-dasharray="1.8,1.0"/>
<rect x="34.40" y="453.00" width="133.00" height="132.60" fill="none" stroke="#2b2b2b" stroke-width="1.15"/>
<line x1="30.00" y1="585.60" x2="34.40" y2="585.60" stroke="#2b2b2b" stroke-width="1.1"/>
<text x="26.70" y="587.95" font-family='"Liberation Sans", sans-serif' font-size="6.60" font-weight="bold" text-anchor="end" fill="#111" stroke="#111" stroke-width="0.22" >0.2</text>
<line x1="30.00" y1="563.50" x2="34.40" y2="563.50" stroke="#2b2b2b" stroke-width="1.1"/>
<text x="26.70" y="565.85" font-family='"Liberation Sans", sans-serif' font-size="6.60" font-weight="bold" text-anchor="end" fill="#111" stroke="#111" stroke-width="0.22" >0.3</text>
<line x1="30.00" y1="541.40" x2="34.40" y2="541.40" stroke="#2b2b2b" stroke-width="1.1"/>
<text x="26.70" y="543.75" font-family='"Liberation Sans", sans-serif' font-size="6.60" font-weight="bold" text-anchor="end" fill="#111" stroke="#111" stroke-width="0.22" >0.4</text>
<line x1="30.00" y1="519.30" x2="34.40" y2="519.30" stroke="#2b2b2b" stroke-width="1.1"/>
<text x="26.70" y="521.65" font-family='"Liberation Sans", sans-serif' font-size="6.60" font-weight="bold" text-anchor="end" fill="#111" stroke="#111" stroke-width="0.22" >0.5</text>
<line x1="30.00" y1="497.20" x2="34.40" y2="497.20" stroke="#2b2b2b" stroke-width="1.1"/>
<text x="26.70" y="499.55" font-family='"Liberation Sans", sans-serif' font-size="6.60" font-weight="bold" text-anchor="end" fill="#111" stroke="#111" stroke-width="0.22" >0.6</text>
<line x1="30.00" y1="475.10" x2="34.40" y2="475.10" stroke="#2b2b2b" stroke-width="1.1"/>
<text x="26.70" y="477.45" font-family='"Liberation Sans", sans-serif' font-size="6.60" font-weight="bold" text-anchor="end" fill="#111" stroke="#111" stroke-width="0.22" >0.7</text>
<line x1="30.00" y1="453.00" x2="34.40" y2="453.00" stroke="#2b2b2b" stroke-width="1.1"/>
<text x="26.70" y="455.35" font-family='"Liberation Sans", sans-serif' font-size="6.60" font-weight="bold" text-anchor="end" fill="#111" stroke="#111" stroke-width="0.22" >0.8</text>
<line x1="34.40" y1="585.60" x2="34.40" y2="590.00" stroke="#2b2b2b" stroke-width="1.1"/>
<text x="34.40" y="599.80" font-family='"Liberation Sans", sans-serif' font-size="6.60" font-weight="bold" text-anchor="middle" fill="#111" stroke="#111" stroke-width="0.22" >0.2</text>
<line x1="56.57" y1="585.60" x2="56.57" y2="590.00" stroke="#2b2b2b" stroke-width="1.1"/>
<text x="56.57" y="599.80" font-family='"Liberation Sans", sans-serif' font-size="6.60" font-weight="bold" text-anchor="middle" fill="#111" stroke="#111" stroke-width="0.22" >0.3</text>
<line x1="78.74" y1="585.60" x2="78.74" y2="590.00" stroke="#2b2b2b" stroke-width="1.1"/>
<text x="78.74" y="599.80" font-family='"Liberation Sans", sans-serif' font-size="6.60" font-weight="bold" text-anchor="middle" fill="#111" stroke="#111" stroke-width="0.22" >0.4</text>
<line x1="100.91" y1="585.60" x2="100.91" y2="590.00" stroke="#2b2b2b" stroke-width="1.1"/>
<text x="100.91" y="599.80" font-family='"Liberation Sans", sans-serif' font-size="6.60" font-weight="bold" text-anchor="middle" fill="#111" stroke="#111" stroke-width="0.22" >0.5</text>
<line x1="123.08" y1="585.60" x2="123.08" y2="590.00" stroke="#2b2b2b" stroke-width="1.1"/>
<text x="123.08" y="599.80" font-family='"Liberation Sans", sans-serif' font-size="6.60" font-weight="bold" text-anchor="middle" fill="#111" stroke="#111" stroke-width="0.22" >0.6</text>
<line x1="145.25" y1="585.60" x2="145.25" y2="590.00" stroke="#2b2b2b" stroke-width="1.1"/>
<text x="145.25" y="599.80" font-family='"Liberation Sans", sans-serif' font-size="6.60" font-weight="bold" text-anchor="middle" fill="#111" stroke="#111" stroke-width="0.22" >0.7</text>
<line x1="167.42" y1="585.60" x2="167.42" y2="590.00" stroke="#2b2b2b" stroke-width="1.1"/>
<text x="167.42" y="599.80" font-family='"Liberation Sans", sans-serif' font-size="6.60" font-weight="bold" text-anchor="middle" fill="#111" stroke="#111" stroke-width="0.22" >0.8</text>
<text x="97.90" y="614.90" font-family='"Liberation Sans", sans-serif' font-size="8.15" font-weight="bold" text-anchor="middle" fill="#000" stroke="#000" stroke-width="0.22" ><tspan font-style="italic">g</tspan><tspan dy="1.8" font-size="4.89">s</tspan><tspan dy="-1.8">  max traced (mol m</tspan><tspan dy="-2.6" font-size="4.89">−2</tspan><tspan dy="2.6"> s</tspan><tspan dy="-2.6" font-size="4.89">−1</tspan><tspan dy="2.6">)</tspan></text>
<text x="11.00" y="520.60" font-family='"Liberation Sans", sans-serif' font-size="8.40" font-weight="bold" text-anchor="middle" fill="#000" stroke="#000" stroke-width="0.22" transform="rotate(-90 11.00 520.60)"><tspan font-style="italic">g</tspan><tspan dy="1.8" font-size="5.04">s</tspan><tspan dy="-1.8">  max ellipse (mol m</tspan><tspan dy="-2.6" font-size="5.04">−2</tspan><tspan dy="2.6"> s</tspan><tspan dy="-2.6" font-size="5.04">−1</tspan><tspan dy="2.6">)</tspan></text>
<text x="129.50" y="579.30" font-family='"Liberation Sans", sans-serif' font-size="6.00" font-weight="normal" text-anchor="start" fill="#333" textLength="32.00" lengthAdjust="spacingAndGlyphs" >R<tspan dy="-2.3" font-size="4.6">2</tspan><tspan dy="2.3"> = 0.5970</tspan></text>
<g clip-path="url(#cF)"><path d="M200.00,583.89 L206.25,578.88 L212.50,573.86 L218.75,568.83 L225.00,563.78 L231.25,558.71 L237.50,553.61 L243.75,548.46 L250.00,543.23 L256.25,537.87 L262.50,532.33 L268.75,526.58 L275.00,520.65 L281.25,514.60 L287.50,508.48 L293.75,502.31 L300.00,496.11 L306.25,489.89 L312.50,483.66 L318.75,477.42 L325.00,471.17 L331.25,464.91 L337.50,458.66 L343.75,452.39 L350.00,446.13 L350.00,464.85 L343.75,469.85 L337.50,474.85 L331.25,479.85 L325.00,484.86 L318.75,489.87 L312.50,494.89 L306.25,499.92 L300.00,504.97 L293.75,510.03 L287.50,515.12 L281.25,520.26 L275.00,525.48 L268.75,530.82 L262.50,536.33 L256.25,542.05 L250.00,547.95 L243.75,553.98 L237.50,560.09 L231.25,566.25 L225.00,572.45 L218.75,578.67 L212.50,584.90 L206.25,591.14 L200.00,597.39 Z" fill="#e4e4e4"/>
<line x1="209.7" y1="581.9" x2="341.6" y2="460.8" stroke="#000" stroke-width="0.85"/></g>
<circle cx="292.20" cy="502.90" r="2.45" fill="#000"/>
<circle cx="289.00" cy="505.10" r="2.45" fill="#000"/>
<circle cx="283.00" cy="512.50" r="2.45" fill="#000"/>
<circle cx="269.30" cy="517.70" r="2.45" fill="#000"/>
<circle cx="265.40" cy="521.60" r="2.45" fill="#000"/>
<circle cx="272.70" cy="523.90" r="2.45" fill="#000"/>
<circle cx="264.50" cy="530.50" r="2.45" fill="#000"/>
<circle cx="267.70" cy="536.00" r="2.45" fill="#000"/>
<circle cx="257.00" cy="540.00" r="2.45" fill="#000"/>
<circle cx="253.00" cy="542.30" r="2.45" fill="#000"/>
<circle cx="261.60" cy="543.30" r="2.45" fill="#000"/>
<circle cx="245.60" cy="545.80" r="2.45" fill="#000"/>
<circle cx="241.40" cy="547.40" r="2.45" fill="#000"/>
<circle cx="255.10" cy="549.20" r="2.45" fill="#000"/>
<circle cx="250.50" cy="551.20" r="2.45" fill="#000"/>
<circle cx="260.20" cy="550.90" r="2.45" fill="#000"/>
<circle cx="237.20" cy="554.30" r="2.45" fill="#000"/>
<circle cx="226.90" cy="561.10" r="2.45" fill="#000"/>
<circle cx="231.60" cy="560.30" r="2.45" fill="#000"/>
<circle cx="229.00" cy="564.20" r="2.45" fill="#000"/>
<circle cx="233.80" cy="566.00" r="2.45" fill="#000"/>
<circle cx="223.00" cy="568.90" r="2.45" fill="#000"/>
<circle cx="225.20" cy="566.60" r="2.45" fill="#000"/>
<circle cx="223.00" cy="574.90" r="2.45" fill="#000"/>
<line x1="209.80" y1="586.20" x2="341.50" y2="453.20" stroke="#f7e0e0" stroke-width="1.1"/>
<line x1="209.80" y1="586.20" x2="341.50" y2="453.20" stroke="#d85c5c" stroke-width="0.7" stroke-dasharray="1.8,1.0"/>
<rect x="209.80" y="453.20" width="131.70" height="133.00" fill="none" stroke="#2b2b2b" stroke-width="1.15"/>
<line x1="205.40" y1="586.20" x2="209.80" y2="586.20" stroke="#2b2b2b" stroke-width="1.1"/>
<text x="202.10" y="588.55" font-family='"Liberation Sans", sans-serif' font-size="6.60" font-weight="bold" text-anchor="end" fill="#111" stroke="#111" stroke-width="0.22" >0.2</text>
<line x1="205.40" y1="552.95" x2="209.80" y2="552.95" stroke="#2b2b2b" stroke-width="1.1"/>
<text x="202.10" y="555.30" font-family='"Liberation Sans", sans-serif' font-size="6.60" font-weight="bold" text-anchor="end" fill="#111" stroke="#111" stroke-width="0.22" >0.3</text>
<line x1="205.40" y1="519.70" x2="209.80" y2="519.70" stroke="#2b2b2b" stroke-width="1.1"/>
<text x="202.10" y="522.05" font-family='"Liberation Sans", sans-serif' font-size="6.60" font-weight="bold" text-anchor="end" fill="#111" stroke="#111" stroke-width="0.22" >0.4</text>
<line x1="205.40" y1="486.45" x2="209.80" y2="486.45" stroke="#2b2b2b" stroke-width="1.1"/>
<text x="202.10" y="488.80" font-family='"Liberation Sans", sans-serif' font-size="6.60" font-weight="bold" text-anchor="end" fill="#111" stroke="#111" stroke-width="0.22" >0.5</text>
<line x1="205.40" y1="453.20" x2="209.80" y2="453.20" stroke="#2b2b2b" stroke-width="1.1"/>
<text x="202.10" y="455.55" font-family='"Liberation Sans", sans-serif' font-size="6.60" font-weight="bold" text-anchor="end" fill="#111" stroke="#111" stroke-width="0.22" >0.6</text>
<line x1="209.80" y1="586.20" x2="209.80" y2="590.60" stroke="#2b2b2b" stroke-width="1.1"/>
<text x="209.80" y="599.80" font-family='"Liberation Sans", sans-serif' font-size="6.60" font-weight="bold" text-anchor="middle" fill="#111" stroke="#111" stroke-width="0.22" >0.2</text>
<line x1="242.73" y1="586.20" x2="242.73" y2="590.60" stroke="#2b2b2b" stroke-width="1.1"/>
<text x="242.73" y="599.80" font-family='"Liberation Sans", sans-serif' font-size="6.60" font-weight="bold" text-anchor="middle" fill="#111" stroke="#111" stroke-width="0.22" >0.3</text>
<line x1="275.66" y1="586.20" x2="275.66" y2="590.60" stroke="#2b2b2b" stroke-width="1.1"/>
<text x="275.66" y="599.80" font-family='"Liberation Sans", sans-serif' font-size="6.60" font-weight="bold" text-anchor="middle" fill="#111" stroke="#111" stroke-width="0.22" >0.4</text>
<line x1="308.59" y1="586.20" x2="308.59" y2="590.60" stroke="#2b2b2b" stroke-width="1.1"/>
<text x="308.59" y="599.80" font-family='"Liberation Sans", sans-serif' font-size="6.60" font-weight="bold" text-anchor="middle" fill="#111" stroke="#111" stroke-width="0.22" >0.5</text>
<line x1="341.52" y1="586.20" x2="341.52" y2="590.60" stroke="#2b2b2b" stroke-width="1.1"/>
<text x="341.52" y="599.80" font-family='"Liberation Sans", sans-serif' font-size="6.60" font-weight="bold" text-anchor="middle" fill="#111" stroke="#111" stroke-width="0.22" >0.6</text>
<text x="186.90" y="520.20" font-family='"Liberation Sans", sans-serif' font-size="8.40" font-weight="bold" text-anchor="middle" fill="#000" stroke="#000" stroke-width="0.22" transform="rotate(-90 186.90 520.20)"><tspan font-style="italic">g</tspan><tspan dy="1.8" font-size="5.04">s</tspan><tspan dy="-1.8">  max rect*0.9 (mol m</tspan><tspan dy="-2.6" font-size="5.04">−2</tspan><tspan dy="2.6"> s</tspan><tspan dy="-2.6" font-size="5.04">−1</tspan><tspan dy="2.6">)</tspan></text>
<text x="275.70" y="614.00" font-family='"Liberation Sans", sans-serif' font-size="8.15" font-weight="bold" text-anchor="middle" fill="#000" stroke="#000" stroke-width="0.22" ><tspan font-style="italic">g</tspan><tspan dy="1.8" font-size="4.89">s</tspan><tspan dy="-1.8">  max traced (mol m</tspan><tspan dy="-2.6" font-size="4.89">−2</tspan><tspan dy="2.6"> s</tspan><tspan dy="-2.6" font-size="4.89">−1</tspan><tspan dy="2.6">)</tspan></text>
<text x="306.30" y="579.30" font-family='"Liberation Sans", sans-serif' font-size="6.00" font-weight="normal" text-anchor="start" fill="#333" textLength="31.50" lengthAdjust="spacingAndGlyphs" >R<tspan dy="-2.3" font-size="4.6">2</tspan><tspan dy="2.3"> = 0.9262</tspan></text>
<rect x="46.2" y="644.6" width="72.2" height="118" fill="#b2b2b2"/>
<rect x="46.2" y="644.6" width="72.2" height="118" filter="url(#gnoise)" opacity="0.35"/>
<g filter="url(#blur1)" fill="none" stroke-linecap="round">
<path d="M68.6,644.6 C68.2,652 67.6,658 67.4,663" stroke="#cdcdcd" stroke-width="1.70" transform="translate(1.0,0)"/>
<path d="M68.6,644.6 C68.2,652 67.6,658 67.4,663" stroke="#737373" stroke-width="0.80"/>
<path d="M55.4,650 C55.4,654 55.5,657 55.6,660" stroke="#c4c4c4" stroke-width="1.50" transform="translate(1.0,0)"/>
<path d="M55.4,650 C55.4,654 55.5,657 55.6,660" stroke="#9a9a9a" stroke-width="0.60"/>
<ellipse cx="61.1" cy="672" rx="8.3" ry="9.6" stroke="#555" stroke-width="1.3" fill="#a9a9a9"/>
<path d="M57.7,681 C57.5,695 57.6,710 57.7,722" stroke="#cdcdcd" stroke-width="1.70" transform="translate(1.0,0)"/>
<path d="M57.7,681 C57.5,695 57.6,710 57.7,722" stroke="#737373" stroke-width="0.80"/>
<path d="M68.6,680.7 C72,686 75.5,690 77.1,694.4 C78,700 78.3,720 78.5,740 C78.6,748 78.6,755 78.6,762.6" stroke="#cdcdcd" stroke-width="1.70" transform="translate(1.0,0)"/>
<path d="M68.6,680.7 C72,686 75.5,690 77.1,694.4 C78,700 78.3,720 78.5,740 C78.6,748 78.6,755 78.6,762.6" stroke="#767676" stroke-width="0.80"/>
<path d="M46.2,722.3 C50,721.8 54,722 56.6,724 C59,726 59.2,730 58.9,736.6 C58.6,739.5 54,740.5 46.2,740.6" stroke="#3a3a3a" stroke-width="1.5" fill="#aaaaaa"/>
<path d="M58.9,738.9 C60,745 63,752 65.7,762.6" stroke="#cdcdcd" stroke-width="1.70" transform="translate(1.0,0)"/>
<path d="M58.9,738.9 C60,745 63,752 65.7,762.6" stroke="#737373" stroke-width="0.80"/>
<path d="M85.2,645.4 C86.5,660 87.5,680 88.4,703 C89,720 90.5,740 91.5,762.6" stroke="#cdcdcd" stroke-width="1.70" transform="translate(1.0,0)"/>
<path d="M85.2,645.4 C86.5,660 87.5,680 88.4,703 C89,720 90.5,740 91.5,762.6" stroke="#727272" stroke-width="0.80"/>
<path d="M102,645.4 C103,660 104,680 105.6,703 C106,720 106.5,740 106.8,762.6" stroke="#cdcdcd" stroke-width="1.70" transform="translate(1.0,0)"/>
<path d="M102,645.4 C103,660 104,680 105.6,703 C106,720 106.5,740 106.8,762.6" stroke="#7a7a7a" stroke-width="0.80"/>
<path d="M111,646 C112,665 113,690 113.5,720 C113.8,740 114,752 114.2,762.6" stroke="#c8c8c8" stroke-width="1.60" transform="translate(1.0,0)"/>
<path d="M111,646 C112,665 113,690 113.5,720 C113.8,740 114,752 114.2,762.6" stroke="#8a8a8a" stroke-width="0.70"/>
<path d="M94.8,652 C91.5,652 90.8,656 91.5,659 C92.3,662 94,664 94.6,666.4 C95.2,664 97.4,662 98,659 C98.7,656 98,652 94.8,652 Z" stroke="#555" stroke-width="0.9" fill="#9c9c9c"/>
<path d="M94.6,666.4 C93,672 91.5,676 91.8,680 M94.6,666.4 C96,672 98,676 98.2,680" stroke="#6a6a6a" stroke-width="0.8"/>
<path d="M81,703.8 C79.5,706 80,712 81.5,720 C82,724 80.5,728 81.4,732 C82.5,736 87.5,736 88.6,732 C89.5,728 88,724 87.5,720 C86.8,712 87,706 85.5,703.8 Z" stroke="#5a5a5a" stroke-width="0.9" fill="#a4a4a4"/>
</g>
<line x1="92.4" y1="666.4" x2="97.2" y2="666.4" stroke="#fff" stroke-width="1.3"/>
<text x="99.40" y="668.90" font-family='"Liberation Sans", sans-serif' font-size="7.40" font-weight="bold" text-anchor="start" fill="#ffffff" stroke="#ffffff" stroke-width="0.22" >W</text>
<text x="105.90" y="671.90" font-family='"Liberation Sans", sans-serif' font-size="5.60" font-weight="bold" text-anchor="start" fill="#ffffff" stroke="#ffffff" stroke-width="0.22" >C</text>
<line x1="93.24" y1="677.80" x2="98.16" y2="677.80" stroke="#ffffff" stroke-width="1.00"/>
<polygon points="91.00,677.80 93.80,679.60 93.80,676.00" fill="#ffffff"/>
<polygon points="100.40,677.80 97.60,679.60 97.60,676.00" fill="#ffffff"/>
<text x="91.60" y="687.50" font-family='"Liberation Sans", sans-serif' font-size="7.40" font-weight="bold" text-anchor="start" fill="#ffffff" stroke="#ffffff" stroke-width="0.22" >W</text>
<text x="98.20" y="690.60" font-family='"Liberation Sans", sans-serif' font-size="5.60" font-weight="bold" text-anchor="start" fill="#ffffff" stroke="#ffffff" stroke-width="0.22" >A</text>
<line x1="71.90" y1="707.37" x2="74.90" y2="730.93" stroke="#ffffff" stroke-width="1.70"/>
<polygon points="71.40,703.40 69.15,708.73 74.91,707.99" fill="#ffffff"/>
<polygon points="75.40,734.90 71.89,730.31 77.65,729.57" fill="#ffffff"/>
<line x1="72.6" y1="702.3" x2="82.9" y2="702.3" stroke="#eee" stroke-width="0.5" stroke-dasharray="0.8,0.8"/>
<line x1="73.7" y1="737.1" x2="82.9" y2="737.1" stroke="#eee" stroke-width="0.5" stroke-dasharray="0.8,0.8"/>
<text x="61.70" y="724.10" font-family='"Liberation Sans", sans-serif' font-size="7.40" font-weight="bold" text-anchor="middle" fill="#ffffff" stroke="#ffffff" stroke-width="0.22" textLength="16.00" lengthAdjust="spacingAndGlyphs" >GCL</text>
<line x1="97.8" y1="745.6" x2="109.8" y2="745.6" stroke="#fff" stroke-width="1.8"/>
<text x="104.40" y="755.60" font-family='"Liberation Sans", sans-serif' font-size="7.30" font-weight="bold" text-anchor="middle" fill="#ffffff" stroke="#ffffff" stroke-width="0.22" textLength="21.60" lengthAdjust="spacingAndGlyphs" >10 µm</text>
<text x="165.90" y="659.30" font-family='"Liberation Serif", serif' font-size="9.80" font-weight="normal" text-anchor="start" fill="#000" textLength="88.40" lengthAdjust="spacingAndGlyphs" >Anatomical <tspan font-style="italic">g</tspan><tspan font-style="italic" dy="1.6" font-size="8.2">s</tspan><tspan dy="-1.6">max=</tspan></text>
<line x1="256.8" y1="656.2" x2="341" y2="656.2" stroke="#000" stroke-width="0.7"/>
<text x="273.00" y="652.20" font-family='"Liberation Serif", serif' font-size="9.80" font-weight="normal" text-anchor="start" fill="#000" textLength="53.20" lengthAdjust="spacingAndGlyphs" >d ·SD · a<tspan dy="2" font-size="8.6">max</tspan></text>
<text x="259.30" y="668.60" font-family='"Liberation Serif", serif' font-size="9.40" font-weight="normal" text-anchor="start" fill="#000" >v</text>
<text x="262.40" y="668.60" font-family='"Liberation Serif", serif' font-size="9.40" font-weight="normal" text-anchor="start" fill="#000" >·</text>
<path d="M269.2,660.6 C265.6,664.5 265.6,670.3 269.2,674.2" fill="none" stroke="#000" stroke-width="0.75"/>
<text x="271.00" y="668.60" font-family='"Liberation Serif", serif' font-size="9.60" font-weight="normal" text-anchor="start" fill="#000" >1</text>
<text x="280.50" y="668.60" font-family='"Liberation Serif", serif' font-size="9.60" font-weight="normal" text-anchor="start" fill="#000" >+</text>
<text x="295.50" y="666.90" font-family='"Liberation Serif", serif' font-size="9.60" font-weight="normal" text-anchor="middle" fill="#000" >π</text>
<line x1="291.8" y1="668.2" x2="299" y2="668.2" stroke="#000" stroke-width="0.55"/>
<text x="295.50" y="675.60" font-family='"Liberation Serif", serif' font-size="8.80" font-weight="normal" text-anchor="middle" fill="#000" >2</text>
<path d="M300.3,660.6 C303.9,664.5 303.9,670.3 300.3,674.2" fill="none" stroke="#000" stroke-width="0.75"/>
<text x="303.40" y="668.60" font-family='"Liberation Serif", serif' font-size="9.60" font-weight="normal" text-anchor="start" fill="#000" >·</text>
<path d="M307,669 L308.6,668.2 L311.2,676.8 L314.2,657.8 L341.2,657.8" fill="none" stroke="#000" stroke-width="0.7"/>
<text x="315.20" y="664.20" font-family='"Liberation Serif", serif' font-size="9.00" font-weight="normal" text-anchor="start" fill="#000" textLength="25.60" lengthAdjust="spacingAndGlyphs" >a<tspan dy="1.2" font-size="7.8">max</tspan></text>
<line x1="315" y1="668.1" x2="341" y2="668.1" stroke="#000" stroke-width="0.55"/>
<text x="328.70" y="676.40" font-family='"Liberation Serif", serif' font-size="9.60" font-weight="normal" text-anchor="middle" fill="#000" >π</text>
<rect x="197.8" y="687.6" width="16.6" height="12.2" fill="#eff7ea"/>
<rect x="200.6" y="708.6" width="21.5" height="10" fill="#eff7ea"/>
<rect x="204.6" y="725.6" width="21.5" height="10" fill="#eff7ea"/>
<text x="165.80" y="695.00" font-family='"Liberation Serif", serif' font-size="10.40" font-weight="normal" text-anchor="start" fill="#000" textLength="86.80" lengthAdjust="spacingAndGlyphs" >a<tspan dy="2.6" font-size="9.8">max</tspan><tspan dy="-2.6">=0.9 ·PL ·PW</tspan></text>
<text x="178.50" y="716.00" font-family='"Liberation Serif", serif' font-size="10.40" font-weight="normal" text-anchor="start" fill="#000" textLength="64.00" lengthAdjust="spacingAndGlyphs" >PL=0.44 ·GCL</text>
<text x="178.50" y="733.10" font-family='"Liberation Serif", serif' font-size="10.40" font-weight="normal" text-anchor="start" fill="#000" textLength="68.20" lengthAdjust="spacingAndGlyphs" >PW=0.13 ·GCL</text>
<text x="178.50" y="746.80" font-family='"Liberation Serif", serif' font-size="10.40" font-weight="normal" text-anchor="start" fill="#000" textLength="47.30" lengthAdjust="spacingAndGlyphs" >l=0.5 ·W<tspan dy="3" font-size="9.4">A</tspan></text>
<rect x="34.00" y="790.40" width="131.40" height="132.30" fill="none" stroke="#2b2b2b" stroke-width="1.15"/>
<line x1="29.60" y1="922.70" x2="34.00" y2="922.70" stroke="#2b2b2b" stroke-width="1.1"/>
<text x="26.30" y="925.05" font-family='"Liberation Sans", sans-serif' font-size="6.60" font-weight="bold" text-anchor="end" fill="#111" stroke="#111" stroke-width="0.22" >0.2</text>
<line x1="29.60" y1="896.24" x2="34.00" y2="896.24" stroke="#2b2b2b" stroke-width="1.1"/>
<text x="26.30" y="898.59" font-family='"Liberation Sans", sans-serif' font-size="6.60" font-weight="bold" text-anchor="end" fill="#111" stroke="#111" stroke-width="0.22" >0.3</text>
<line x1="29.60" y1="869.78" x2="34.00" y2="869.78" stroke="#2b2b2b" stroke-width="1.1"/>
<text x="26.30" y="872.13" font-family='"Liberation Sans", sans-serif' font-size="6.60" font-weight="bold" text-anchor="end" fill="#111" stroke="#111" stroke-width="0.22" >0.4</text>
<line x1="29.60" y1="843.32" x2="34.00" y2="843.32" stroke="#2b2b2b" stroke-width="1.1"/>
<text x="26.30" y="845.67" font-family='"Liberation Sans", sans-serif' font-size="6.60" font-weight="bold" text-anchor="end" fill="#111" stroke="#111" stroke-width="0.22" >0.5</text>
<line x1="29.60" y1="816.86" x2="34.00" y2="816.86" stroke="#2b2b2b" stroke-width="1.1"/>
<text x="26.30" y="819.21" font-family='"Liberation Sans", sans-serif' font-size="6.60" font-weight="bold" text-anchor="end" fill="#111" stroke="#111" stroke-width="0.22" >0.6</text>
<line x1="29.60" y1="790.40" x2="34.00" y2="790.40" stroke="#2b2b2b" stroke-width="1.1"/>
<text x="26.30" y="792.75" font-family='"Liberation Sans", sans-serif' font-size="6.60" font-weight="bold" text-anchor="end" fill="#111" stroke="#111" stroke-width="0.22" >0.7</text>
<line x1="60.00" y1="922.7" x2="60.00" y2="927" stroke="#2b2b2b" stroke-width="1.1"/>
<line x1="99.80" y1="922.7" x2="99.80" y2="927" stroke="#2b2b2b" stroke-width="1.1"/>
<line x1="139.60" y1="922.7" x2="139.60" y2="927" stroke="#2b2b2b" stroke-width="1.1"/>
<path d="M60.00,816.40 L60.00,813.80 L139.60,813.80 L139.60,816.40" fill="none" stroke="#222" stroke-width="1.1"/>
<path d="M60.00,829.40 L60.00,826.60 L98.60,826.60 L98.60,829.40" fill="none" stroke="#222" stroke-width="1.1"/>
<path d="M101.60,829.40 L101.60,826.60 L139.60,826.60 L139.60,829.40" fill="none" stroke="#222" stroke-width="1.1"/>
<text x="98.00" y="809.00" font-family='"Liberation Sans", sans-serif' font-size="6.20" font-weight="normal" text-anchor="middle" fill="#333" >0.1866</text>
<text x="78.00" y="821.80" font-family='"Liberation Sans", sans-serif' font-size="6.20" font-weight="normal" text-anchor="middle" fill="#333" >0.5237</text>
<text x="120.00" y="821.80" font-family='"Liberation Sans", sans-serif' font-size="6.20" font-weight="normal" text-anchor="middle" fill="#333" >0.7109</text>
<path d="M49.5,835.7 L71,835.7 Q73.2,835.7 73.2,838 C73.2,845 71.6,848 71.6,852 C71.6,856 73.2,860 73.2,868.5 Q73.2,870.8 71,870.8 L49.5,870.8 Q47.4,870.8 47.4,868.5 C47.4,860 49,856 49,852 C49,848 47.4,845 47.4,838 Q47.4,835.7 49.5,835.7 Z" fill="#98d291" stroke="#111" stroke-width="1.35" stroke-linejoin="round"/>
<line x1="48.50" y1="838.60" x2="72.20" y2="838.60" stroke="#1a1a1a" stroke-width="0.45" stroke-dasharray="1,1"/>
<line x1="49.00" y1="852.00" x2="71.60" y2="852.00" stroke="#1a1a1a" stroke-width="0.9" stroke-dasharray="2,1.2"/>
<line x1="48.50" y1="867.90" x2="72.20" y2="867.90" stroke="#1a1a1a" stroke-width="0.45" stroke-dasharray="1,1"/>
<circle cx="60.40" cy="835.70" r="2.40" fill="#fff" stroke="#1a1a1a" stroke-width="0.8"/>
<circle cx="60.40" cy="846.40" r="2.40" fill="#fff" stroke="#1a1a1a" stroke-width="0.8"/>
<circle cx="60.40" cy="858.90" r="2.40" fill="#fff" stroke="#1a1a1a" stroke-width="0.8"/>
<circle cx="60.40" cy="870.70" r="2.40" fill="#fff" stroke="#1a1a1a" stroke-width="0.8"/>
<path d="M92.3,853.3 L107.8,853.3 L107.3,855.8 L112.6,861.1 L107.8,866 L107.8,868.9 L93.2,868.9 L93.2,866 L87.9,861.1 L92.7,855.8 Z" fill="#f2ed80" stroke="#111" stroke-width="1.35" stroke-linejoin="round"/>
<line x1="89.00" y1="861.00" x2="111.00" y2="861.00" stroke="#1a1a1a" stroke-width="0.9" stroke-dasharray="2,1.2"/>
<circle cx="100.00" cy="853.30" r="2.40" fill="#fff" stroke="#1a1a1a" stroke-width="0.8"/>
<circle cx="94.70" cy="859.70" r="2.40" fill="#fff" stroke="#1a1a1a" stroke-width="0.8"/>
<circle cx="104.90" cy="862.60" r="2.40" fill="#fff" stroke="#1a1a1a" stroke-width="0.8"/>
<circle cx="99.50" cy="869.80" r="2.40" fill="#fff" stroke="#1a1a1a" stroke-width="0.8"/>
<path d="M129,856.9 L150.5,856.9 Q152.2,856.9 152,859 C151.5,864 150.3,868 150.3,872 C150.3,875 151,877 150.5,879.7 L129.5,879.7 C129,877 129.7,875 129.7,872 C129.7,868 128.5,864 128,859 Q127.8,856.9 129,856.9 Z" fill="#f47b72" stroke="#111" stroke-width="1.35" stroke-linejoin="round"/>
<line x1="128.50" y1="858.90" x2="151.50" y2="858.90" stroke="#1a1a1a" stroke-width="0.45" stroke-dasharray="1,1"/>
<line x1="129.00" y1="867.70" x2="151.00" y2="867.70" stroke="#1a1a1a" stroke-width="0.9" stroke-dasharray="2,1.2"/>
<line x1="129.50" y1="877.40" x2="150.50" y2="877.40" stroke="#1a1a1a" stroke-width="0.45" stroke-dasharray="1,1"/>
<circle cx="140.00" cy="856.30" r="2.40" fill="#fff" stroke="#1a1a1a" stroke-width="0.8"/>
<circle cx="140.00" cy="864.00" r="2.40" fill="#fff" stroke="#1a1a1a" stroke-width="0.8"/>
<circle cx="140.00" cy="871.00" r="2.40" fill="#fff" stroke="#1a1a1a" stroke-width="0.8"/>
<circle cx="140.00" cy="880.00" r="2.40" fill="#fff" stroke="#1a1a1a" stroke-width="0.8"/>
<text x="10.80" y="856.00" font-family='"Liberation Sans", sans-serif' font-size="8.10" font-weight="bold" text-anchor="middle" fill="#000" stroke="#000" stroke-width="0.22" transform="rotate(-90 10.80 856.00)">g<tspan dy="1.8" font-size="4.86">s</tspan><tspan dy="-1.8">max <tspan dx="2.2">(mol m</tspan></tspan><tspan dy="-2.6" font-size="4.86">−2</tspan><tspan dy="2.6"> s</tspan><tspan dy="-2.6" font-size="4.86">−1</tspan><tspan dy="2.6">)</tspan></text>
<text x="62.00" y="931.80" font-family='"Liberation Sans", sans-serif' font-size="6.90" font-weight="bold" text-anchor="end" fill="#000" stroke="#000" stroke-width="0.08" transform="rotate(-45 62.00 931.8)">Physiological</text>
<text x="101.80" y="931.80" font-family='"Liberation Sans", sans-serif' font-size="6.90" font-weight="bold" text-anchor="end" fill="#000" stroke="#000" stroke-width="0.08" transform="rotate(-45 101.80 931.8)">Anatomical (LM)</text>
<text x="141.60" y="931.80" font-family='"Liberation Sans", sans-serif' font-size="6.90" font-weight="bold" text-anchor="end" fill="#000" stroke="#000" stroke-width="0.08" transform="rotate(-45 141.60 931.8)">Anatomical (CM)</text>
<rect x="209.00" y="790.60" width="132.40" height="132.30" fill="none" stroke="#2b2b2b" stroke-width="1.15"/>
<line x1="204.60" y1="922.90" x2="209.00" y2="922.90" stroke="#2b2b2b" stroke-width="1.1"/>
<text x="201.30" y="925.25" font-family='"Liberation Sans", sans-serif' font-size="6.60" font-weight="bold" text-anchor="end" fill="#111" stroke="#111" stroke-width="0.22" >0.2</text>
<line x1="204.60" y1="896.44" x2="209.00" y2="896.44" stroke="#2b2b2b" stroke-width="1.1"/>
<text x="201.30" y="898.79" font-family='"Liberation Sans", sans-serif' font-size="6.60" font-weight="bold" text-anchor="end" fill="#111" stroke="#111" stroke-width="0.22" >0.3</text>
<line x1="204.60" y1="869.98" x2="209.00" y2="869.98" stroke="#2b2b2b" stroke-width="1.1"/>
<text x="201.30" y="872.33" font-family='"Liberation Sans", sans-serif' font-size="6.60" font-weight="bold" text-anchor="end" fill="#111" stroke="#111" stroke-width="0.22" >0.4</text>
<line x1="204.60" y1="843.52" x2="209.00" y2="843.52" stroke="#2b2b2b" stroke-width="1.1"/>
<text x="201.30" y="845.87" font-family='"Liberation Sans", sans-serif' font-size="6.60" font-weight="bold" text-anchor="end" fill="#111" stroke="#111" stroke-width="0.22" >0.5</text>
<line x1="204.60" y1="817.06" x2="209.00" y2="817.06" stroke="#2b2b2b" stroke-width="1.1"/>
<text x="201.30" y="819.41" font-family='"Liberation Sans", sans-serif' font-size="6.60" font-weight="bold" text-anchor="end" fill="#111" stroke="#111" stroke-width="0.22" >0.6</text>
<line x1="204.60" y1="790.60" x2="209.00" y2="790.60" stroke="#2b2b2b" stroke-width="1.1"/>
<text x="201.30" y="792.95" font-family='"Liberation Sans", sans-serif' font-size="6.60" font-weight="bold" text-anchor="end" fill="#111" stroke="#111" stroke-width="0.22" >0.7</text>
<line x1="235.40" y1="922.9" x2="235.40" y2="927" stroke="#2b2b2b" stroke-width="1.1"/>
<line x1="275.40" y1="922.9" x2="275.40" y2="927" stroke="#2b2b2b" stroke-width="1.1"/>
<line x1="315.40" y1="922.9" x2="315.40" y2="927" stroke="#2b2b2b" stroke-width="1.1"/>
<path d="M235.20,821.00 L235.20,815.00 L315.60,815.00 L315.60,821.00" fill="none" stroke="#222" stroke-width="1.1"/>
<path d="M235.20,838.60 L235.20,833.00 L273.60,833.00 L273.60,838.60" fill="none" stroke="#222" stroke-width="1.1"/>
<path d="M277.00,838.60 L277.00,833.00 L315.60,833.00 L315.60,838.60" fill="none" stroke="#222" stroke-width="1.1"/>
<text x="275.00" y="811.20" font-family='"Liberation Sans", sans-serif' font-size="6.20" font-weight="normal" text-anchor="middle" fill="#333" >0.0772</text>
<text x="254.00" y="828.60" font-family='"Liberation Sans", sans-serif' font-size="6.20" font-weight="normal" text-anchor="middle" fill="#333" >0.1689</text>
<text x="296.00" y="828.60" font-family='"Liberation Sans", sans-serif' font-size="6.20" font-weight="normal" text-anchor="middle" fill="#333" >0.7743</text>
<path d="M227.5,857 L243.5,857 C246,859 248.5,861.5 248.3,863.5 C248,866 244,870 239.5,874 C243,877 247.5,881 247.5,884 L223.8,884 C224,881 227.5,877 231,874 C226.5,870 222.8,866 222.8,863.5 C222.8,861.5 225,859 227.5,857 Z" fill="#f47b72" stroke="#111" stroke-width="1.35" stroke-linejoin="round"/>
<line x1="224.00" y1="866.00" x2="247.00" y2="866.00" stroke="#1a1a1a" stroke-width="0.45" stroke-dasharray="1,1"/>
<circle cx="235.50" cy="857.00" r="2.40" fill="#fff" stroke="#1a1a1a" stroke-width="0.8"/>
<circle cx="241.00" cy="864.80" r="2.40" fill="#fff" stroke="#1a1a1a" stroke-width="0.8"/>
<circle cx="230.00" cy="867.50" r="2.40" fill="#fff" stroke="#1a1a1a" stroke-width="0.8"/>
<circle cx="240.50" cy="882.00" r="2.40" fill="#fff" stroke="#1a1a1a" stroke-width="0.8"/>
<circle cx="230.50" cy="884.50" r="2.40" fill="#fff" stroke="#1a1a1a" stroke-width="0.8"/>
<path d="M264,872.5 L285,872.5 C286.5,872.5 287.5,873.5 287,875 C286,878 285,880 284.5,881 C283,884.5 281,887.5 278.5,891.5 C277.5,893.5 277.5,895 278.2,896 C279.5,897.5 279.5,899.5 277.5,900 L273.5,900 C271.5,899.5 271.5,897.5 272.8,896 C273.5,895 273.5,893.5 272.5,891.5 C270,887.5 268,884.5 266.5,881 C266,880 264,877 262.8,875 C262.3,873.5 263,872.5 264,872.5 Z" fill="#98d291" stroke="#111" stroke-width="1.35" stroke-linejoin="round"/>
<line x1="263.50" y1="880.00" x2="286.50" y2="880.00" stroke="#1a1a1a" stroke-width="0.9" stroke-dasharray="2,1.2"/>
<line x1="263.50" y1="874.80" x2="286.50" y2="874.80" stroke="#1a1a1a" stroke-width="0.45" stroke-dasharray="1,1"/>
<circle cx="264.50" cy="872.50" r="2.40" fill="#fff" stroke="#1a1a1a" stroke-width="0.8"/>
<circle cx="286.00" cy="877.00" r="2.40" fill="#fff" stroke="#1a1a1a" stroke-width="0.8"/>
<circle cx="275.50" cy="877.00" r="2.40" fill="#fff" stroke="#1a1a1a" stroke-width="0.8"/>
<circle cx="286.00" cy="882.80" r="2.40" fill="#fff" stroke="#1a1a1a" stroke-width="0.8"/>
<circle cx="275.50" cy="887.50" r="2.40" fill="#fff" stroke="#1a1a1a" stroke-width="0.8"/>
<circle cx="275.50" cy="899.00" r="2.40" fill="#fff" stroke="#1a1a1a" stroke-width="0.8"/>
<path d="M307,880.5 L318,880 C321,880.5 325,882.5 327.5,884.5 C325.5,886 323.5,887 322,887.5 C320,888.5 318,890 317,891.5 C318,892.5 320.5,893.5 321.5,894.8 L308.5,895 C309.5,893.5 312,892.5 313,891.5 C312,890 310,888.5 306,887.5 C304.5,887 303.5,886 302.5,884.5 C304,882.5 305.5,881 307,880.5 Z" fill="#6b8fc2" stroke="#111" stroke-width="1.35" stroke-linejoin="round"/>
<line x1="303.00" y1="885.50" x2="327.00" y2="885.50" stroke="#1a1a1a" stroke-width="0.9" stroke-dasharray="2,1.2"/>
<circle cx="320.80" cy="880.00" r="2.40" fill="#fff" stroke="#1a1a1a" stroke-width="0.8"/>
<circle cx="310.00" cy="885.00" r="2.40" fill="#fff" stroke="#1a1a1a" stroke-width="0.8"/>
<circle cx="320.80" cy="886.20" r="2.40" fill="#fff" stroke="#1a1a1a" stroke-width="0.8"/>
<circle cx="315.00" cy="896.00" r="2.40" fill="#fff" stroke="#1a1a1a" stroke-width="0.8"/>
<text x="184.60" y="851.50" font-family='"Liberation Sans", sans-serif' font-size="8.10" font-weight="bold" text-anchor="middle" fill="#000" stroke="#000" stroke-width="0.22" transform="rotate(-90 184.60 851.50)">g<tspan dy="1.8" font-size="4.86">s</tspan><tspan dy="-1.8">max <tspan dx="2.2">(mol m</tspan></tspan><tspan dy="-2.6" font-size="4.86">−2</tspan><tspan dy="2.6"> s</tspan><tspan dy="-2.6" font-size="4.86">−1</tspan><tspan dy="2.6">)</tspan></text>
<text x="234.80" y="931.30" font-family='"Liberation Sans", sans-serif' font-size="6.90" font-weight="bold" text-anchor="end" fill="#000" stroke="#000" stroke-width="0.08" transform="rotate(-45 234.80 931.3)">Summer</text>
<text x="274.80" y="931.30" font-family='"Liberation Sans", sans-serif' font-size="6.90" font-weight="bold" text-anchor="end" fill="#000" stroke="#000" stroke-width="0.08" transform="rotate(-45 274.80 931.3)">Autumn</text>
<text x="314.80" y="931.30" font-family='"Liberation Sans", sans-serif' font-size="6.90" font-weight="bold" text-anchor="end" fill="#000" stroke="#000" stroke-width="0.08" transform="rotate(-45 314.80 931.3)">Winter</text></svg></body></html>
